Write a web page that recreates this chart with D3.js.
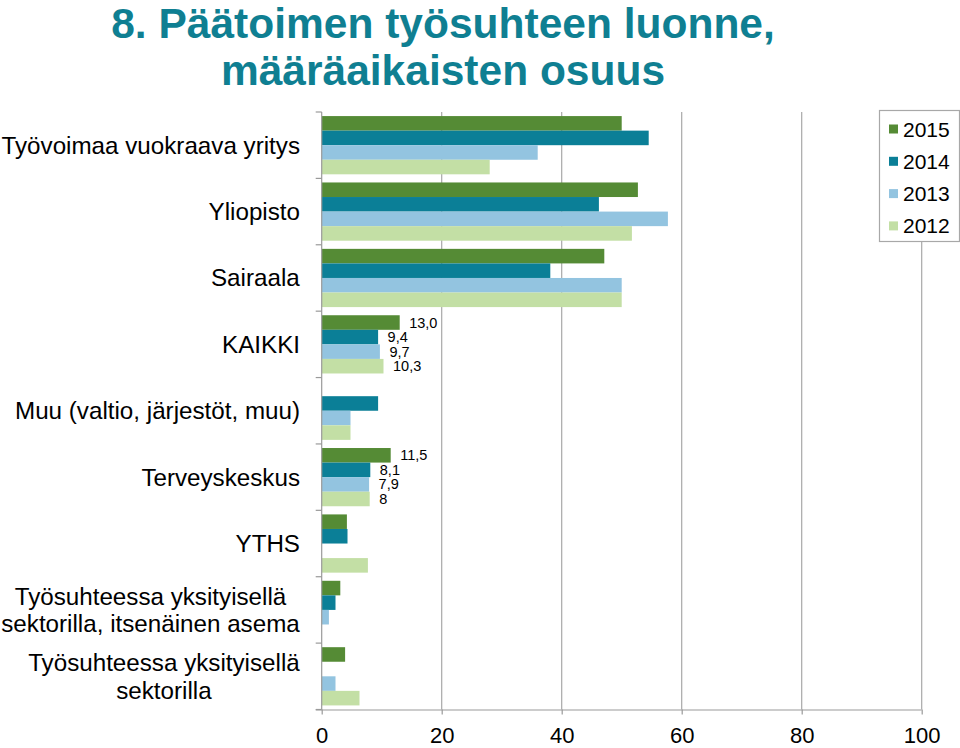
<!DOCTYPE html>
<html>
<head>
<meta charset="utf-8">
<script src="https://cdn.jsdelivr.net/npm/d3@7"></script>
<style>
  html, body { margin: 0; padding: 0; background: #fff; }
  svg { display: block; font-family: "Liberation Sans", Arial, sans-serif; }
</style>
</head>
<body>
<svg id="chart" width="960" height="748"></svg>
<script>
// ---- data ----
const titleLines = ["8. Päätoimen työsuhteen luonne,", "määräaikaisten osuus"];
const categories = [
  "Työvoimaa vuokraava yritys",
  "Yliopisto",
  "Sairaala",
  "KAIKKI",
  "Muu (valtio, järjestöt, muu)",
  "Terveyskeskus",
  "YTHS",
  "Työsuhteessa yksityisellä\nsektorilla, itsenäinen asema",
  "Työsuhteessa yksityisellä\nsektorilla"
];
const years = ["2015", "2014", "2013", "2012"];
const values2015 = [50.0, 52.7, 47.1, 13.0, null, 11.5, 4.2, 3.1, 3.9];
const values2014 = [54.5, 46.2, 38.1, 9.4, 9.4, 8.1, 4.3, 2.3, null];
const values2013 = [36.0, 57.7, 50.0, 9.7, 4.8, 7.9, null, 1.2, 2.3];
const values2012 = [28.0, 51.7, 50.0, 10.3, 4.8, 8.0, 7.7, null, 6.3];
const labels2015 = [null, null, null, "13,0", null, "11,5", null, null, null];
const labels2014 = [null, null, null, "9,4", null, "8,1", null, null, null];
const labels2013 = [null, null, null, "9,7", null, "7,9", null, null, null];
const labels2012 = [null, null, null, "10,3", null, "8", null, null, null];
const xTicks = [0, 20, 40, 60, 80, 100];
const colors = ["#558b35", "#0b7f97", "#93c4e0", "#c3dfa5"];

const seriesValues = [values2015, values2014, values2013, values2012];
const seriesLabels = [labels2015, labels2014, labels2013, labels2012];

// ---- layout ----
const svg = d3.select("#chart");
const pLeft = 321.7, pRight = 921.7, pTop = 112, pBottom = 709.5;

const x = d3.scaleLinear().domain([0, 100]).range([pLeft, pRight]);
const y = d3.scaleBand().domain(categories).range([pTop, pBottom]).paddingInner(0).paddingOuter(0);
const yInner = d3.scaleBand().domain(years).range([0, y.bandwidth()]).paddingInner(0).paddingOuter(0.28);
const color = d3.scaleOrdinal().domain(years).range(colors);

// title
svg.append("g").selectAll("text").data(titleLines).join("text")
  .attr("x", 443)
  .attr("y", (d, i) => 38 + i * 47)
  .attr("text-anchor", "middle")
  .attr("font-size", 42.5)
  .attr("font-weight", "bold")
  .attr("fill", "#0f7f92")
  .text(d => d);

// gridlines
svg.append("g").selectAll("line").data(xTicks.filter(t => t > 0)).join("line")
  .attr("x1", d => x(d)).attr("x2", d => x(d))
  .attr("y1", pTop).attr("y2", pBottom)
  .attr("stroke", "#a8a8a8").attr("stroke-width", 1.2);

// bars
const rows = [];
categories.forEach((c, ci) => {
  years.forEach((yr, si) => {
    const v = seriesValues[si][ci];
    if (v != null) rows.push({ cat: c, year: yr, value: v, label: seriesLabels[si][ci] });
  });
});

svg.append("g").selectAll("rect").data(rows).join("rect")
  .attr("x", x(0))
  .attr("y", d => y(d.cat) + yInner(d.year))
  .attr("width", d => x(d.value) - x(0))
  .attr("height", yInner.bandwidth())
  .attr("fill", d => color(d.year));

// value labels
svg.append("g").selectAll("text").data(rows.filter(d => d.label)).join("text")
  .attr("x", d => x(d.value) + 9.5)
  .attr("y", d => y(d.cat) + yInner(d.year) + yInner.bandwidth() / 2)
  .attr("dy", "0.35em")
  .attr("font-size", 14.5)
  .attr("fill", "#000")
  .text(d => d.label);

// x axis
const xAxis = d3.axisBottom(x).tickValues(xTicks).tickSize(5).tickPadding(13).tickFormat(d3.format("d"));
const gx = svg.append("g").attr("transform", `translate(0,${pBottom})`).call(xAxis);
gx.select(".domain").attr("stroke", "#9a9a9a").attr("stroke-width", 1.2)
  .attr("d", `M${pLeft - 6},0.5H${pRight}`);
gx.selectAll(".tick line").attr("stroke", "#9a9a9a").attr("stroke-width", 1.2);
gx.selectAll(".tick text").attr("font-size", 22).attr("fill", "#000")
  .attr("font-family", "'Liberation Sans', Arial, sans-serif");

// y axis line + boundary ticks
const gy = svg.append("g");
gy.append("line").attr("x1", pLeft).attr("x2", pLeft).attr("y1", pTop).attr("y2", pBottom)
  .attr("stroke", "#9a9a9a").attr("stroke-width", 1.2);
const bounds = categories.map(c => y(c)).concat([y(categories[categories.length - 1]) + y.bandwidth()]);
gy.selectAll("line.tk").data(bounds).join("line").attr("class", "tk")
  .attr("x1", pLeft - 6).attr("x2", pLeft)
  .attr("y1", d => d).attr("y2", d => d)
  .attr("stroke", "#9a9a9a").attr("stroke-width", 1.2);

// category labels
const labelRight = 300;
categories.forEach(c => {
  const lines = c.split("\n");
  const cy = y(c) + y.bandwidth() / 2;
  const lh = 27.5;
  const t = svg.append("text")
    .attr("font-size", 24.2)
    .attr("fill", "#000")
    .attr("text-anchor", "middle");
  lines.forEach((ln, i) => {
    t.append("tspan")
      .attr("x", 0)
      .attr("y", cy + (i - (lines.length - 1) / 2) * lh)
      .attr("dy", "0.35em")
      .text(ln);
  });
  const w = t.node().getBBox().width;
  t.attr("transform", `translate(${labelRight - w / 2},0)`);
});

// legend
const lg = svg.append("g");
lg.append("rect").attr("x", 879.5).attr("y", 110.5).attr("width", 80).attr("height", 131)
  .attr("fill", "#fff").attr("stroke", "#a8a8a8").attr("stroke-width", 1.2);
const li = lg.selectAll("g.item").data(years).join("g").attr("class", "item")
  .attr("transform", (d, i) => `translate(0,${129 + i * 32.3})`);
li.append("rect").attr("x", 889).attr("y", -4.5).attr("width", 9).attr("height", 9)
  .attr("fill", d => color(d));
li.append("text").attr("x", 903).attr("dy", "0.36em").attr("font-size", 21)
  .attr("fill", "#000").text(d => d);
</script>
</body>
</html>
